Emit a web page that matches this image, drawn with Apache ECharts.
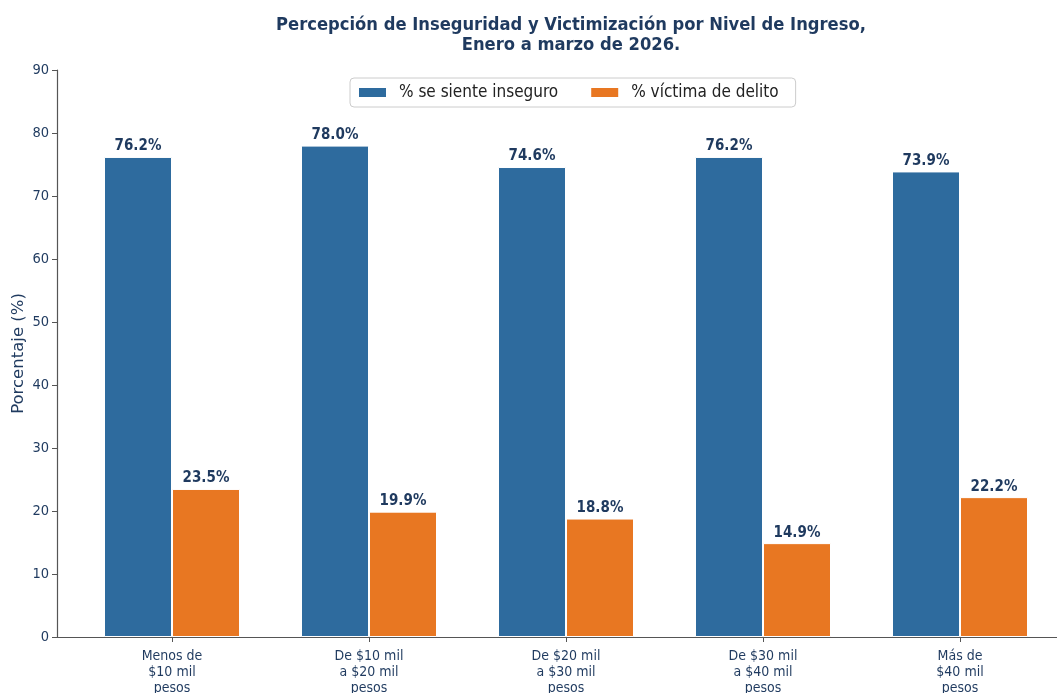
<!DOCTYPE html>
<html>
<head>
<meta charset="utf-8">
<script src="https://cdn.jsdelivr.net/npm/echarts@6/dist/echarts.min.js"></script>
<style>html,body{margin:0;padding:0;background:#fff}#c{width:1057px;height:693px}</style>
</head>
<body>
<div id="c"></div>
<script>
const categories = ['Menos de\n$10 mil\npesos', 'De $10 mil\na $20 mil\npesos', 'De $20 mil\na $30 mil\npesos', 'De $30 mil\na $40 mil\npesos', 'Más de\n$40 mil\npesos'];
const inseguro = [76.2, 78.0, 74.6, 76.2, 73.9];
const victima = [23.5, 19.9, 18.8, 14.9, 22.2];
const seriesNames = ['% se siente inseguro', '% víctima de delito'];
const yTicks = {min: 0, max: 90, interval: 10};

const NAVY = '#1f3a5f';
const FONT = '"DejaVu Sans Condensed", "DejaVu Sans", sans-serif';
const chart = echarts.init(document.getElementById('c'), null, {renderer: 'canvas'});
const labelCfg = {
  show: true, position: 'top', distance: 3,
  formatter: p => p.value.toFixed(1) + '%',
  fontFamily: FONT, fontWeight: 'bold', fontSize: 15, color: NAVY
};
chart.setOption({
  animation: false,
  backgroundColor: '#fff',
  title: {
    text: 'Percepción de Inseguridad y Victimización por Nivel de Ingreso,\nEnero a marzo de 2026.',
    left: 566, top: 10, textAlign: 'center',
    textStyle: {fontFamily: FONT, fontWeight: 'bold', fontSize: 18.2, color: NAVY, lineHeight: 20}
  },
  legend: {
    data: seriesNames, left: 350, top: 78,
    itemWidth: 29, itemHeight: 11, itemGap: 31,
    borderColor: '#cccccc', borderWidth: 1, borderRadius: 4, padding: [6, 17, 6, 7],
    textStyle: {fontFamily: FONT, fontSize: 17, color: '#222', padding: [0, 0, 0, 7]},
    icon: 'rect'
  },
  grid: [
    {left: 73.5, right: -1.5, top: 70, bottom: 56, containLabel: false, outerBoundsMode: 'none'},
    {left: 57, right: 0, top: 70, bottom: 56, containLabel: false, outerBoundsMode: 'none'}
  ],
  xAxis: [
    {
      type: 'category', data: categories, gridIndex: 0,
      axisLine: {show: false},
      axisTick: {show: true, alignWithLabel: true, length: 5, lineStyle: {color: '#555'}},
      axisLabel: {fontFamily: FONT, fontSize: 14, color: NAVY, lineHeight: 16, margin: 11, interval: 0}
    },
    {
      type: 'value', gridIndex: 1, min: 0, max: 1,
      axisLine: {show: true, onZero: false, lineStyle: {color: '#555', width: 1.2}},
      axisTick: {show: false}, axisLabel: {show: false}, splitLine: {show: false}
    }
  ],
  yAxis: [
    {
      type: 'value', gridIndex: 0, min: yTicks.min, max: yTicks.max, interval: yTicks.interval,
      show: false
    },
    {
      type: 'value', gridIndex: 1, min: yTicks.min, max: yTicks.max, interval: yTicks.interval,
      name: 'Porcentaje (%)', nameLocation: 'middle', nameGap: 30, nameMoveOverlap: false,
      nameTextStyle: {fontFamily: '"DejaVu Sans", sans-serif', fontSize: 16.5, color: NAVY},
      axisLine: {show: true, lineStyle: {color: '#555', width: 1.2}},
      axisTick: {show: true, length: 5, lineStyle: {color: '#555'}},
      axisLabel: {fontFamily: FONT, fontSize: 14.5, color: NAVY, margin: 8},
      splitLine: {show: false}
    }
  ],
  series: [
    {
      name: seriesNames[0], type: 'bar', xAxisIndex: 0, yAxisIndex: 0,
      data: inseguro, barWidth: 68, barGap: '0%',
      itemStyle: {color: '#2e6b9e', borderColor: '#fff', borderWidth: 1},
      label: labelCfg
    },
    {
      name: seriesNames[1], type: 'bar', xAxisIndex: 0, yAxisIndex: 0,
      data: victima, barWidth: 68, barGap: '0%',
      itemStyle: {color: '#e87722', borderColor: '#fff', borderWidth: 1},
      label: labelCfg
    }
  ]
});
</script>
</body>
</html>
